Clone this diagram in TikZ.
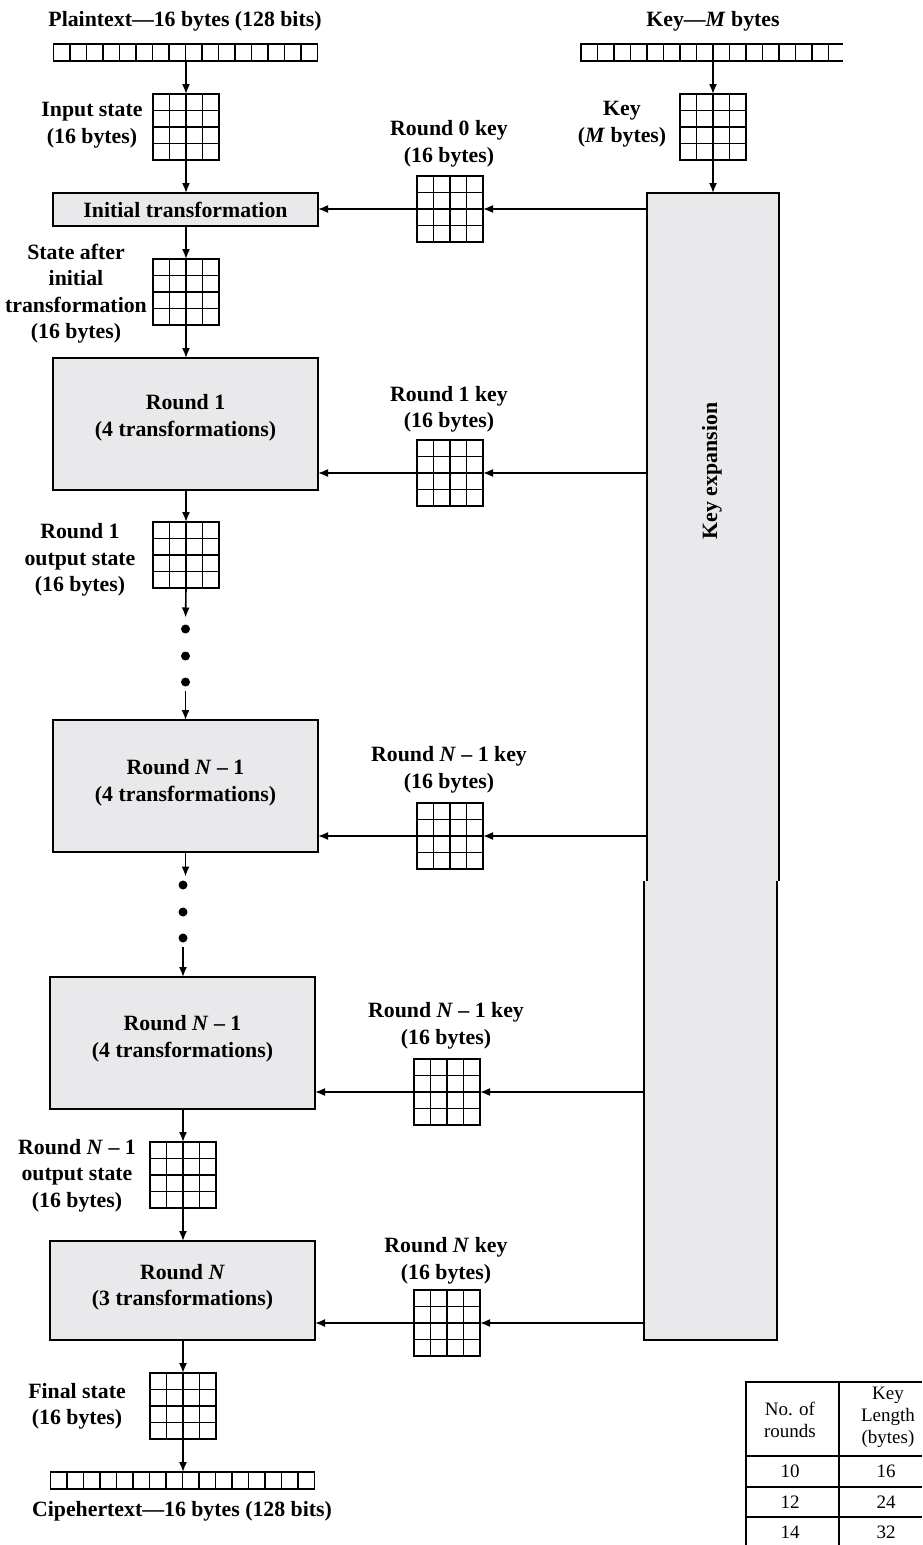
\documentclass[tikz,border=0pt]{standalone}
\usepackage{fontspec}
\setmainfont{Liberation Serif}
\usetikzlibrary{arrows.meta}
\definecolor{boxgray}{RGB}{233,233,236}
\tikzset{
 lbl/.style={font=\bfseries\fontsize{21.8}{26.5}\selectfont, align=center, inner sep=0},
 tbl/.style={font=\fontsize{19}{22}\selectfont, align=center, inner sep=0},
 sgrid/.style={draw, line width=1.7pt, minimum width=66pt, minimum height=66pt, inner sep=0, outer sep=0, fill=white},
 bar/.style={draw, line width=1.7pt, minimum width=264pt, minimum height=17pt, inner sep=0, outer sep=0},
 stagebox/.style={draw, line width=1.7pt, fill=boxgray, minimum width=265pt, inner sep=0, outer sep=0, font=\bfseries\fontsize{21.8}{26.5}\selectfont, align=center},
 arr/.style={line width=1.6pt, -{Latex[length=10pt,width=8pt]}},
 ln/.style={line width=1.7pt},
 dotn/.style={circle, fill=black, minimum size=9pt, inner sep=0, outer sep=0},
}
\newcommand\gridlines[1]{%
 \foreach \k in {16.5,33,49.5}{%
 \draw[ln] ([xshift=\k pt]#1.north west) -- ([xshift=\k pt]#1.south west);
 \draw[ln] ([yshift=-\k pt]#1.north west) -- ([yshift=-\k pt]#1.north east);}}
\newcommand\barlines[1]{\foreach \k in {1,...,15}{\draw[ln] ([xshift=\k*16.5pt]#1.north west) -- ([xshift=\k*16.5pt]#1.south west);}}
\begin{document}
\begin{tikzpicture}[x=1pt,y=-1pt]
\useasboundingbox (0,0) rectangle (922,1545);
% ---------- key expansion column ----------
\node[fill=boxgray, minimum width=132pt, minimum height=688pt, inner sep=0, outer sep=0] (kx) at (713,537) {};
\draw[ln] (kx.south west) -- (kx.north west) -- (kx.north east) -- (kx.south east);
\node[fill=boxgray, minimum width=133pt, minimum height=459pt, inner sep=0, outer sep=0] (kx2) at (710.5,1110.5) {};
\draw[ln] (kx2.north west) -- (kx2.south west) -- (kx2.south east) -- (kx2.north east);
\node[lbl, rotate=90] (kxt) at (712,471) {Key expansion};
% ---------- top ----------
\node[lbl] (ptlab) at (185,21) {Plaintext—16 bytes (128 bits)};
\node[bar] (ptbar) at (185.5,52.5) {};
\barlines{ptbar}
\node[lbl] (keylab) at (713,21) {Key—\textit{M} bytes};
\node[minimum width=262pt, minimum height=17pt, inner sep=0, outer sep=0] (keybar) at (712,52.5) {};
\draw[ln] (keybar.north east) -- (keybar.north west) -- (keybar.south west) -- (keybar.south east);
\barlines{keybar}
\node[sgrid] (kg) at (713,127) {};
\gridlines{kg}
\node[lbl] (kglab) at (622,124) {Key\\(\textit{M} bytes)};
\draw[arr] (keybar.south -| kg.north) -- (kg.north);
\draw[arr] (kg.south) -- (kg.south |- kx.north);
\node[sgrid] (ins) at (186,127) {};
\gridlines{ins}
\node[lbl] (inlab) at (92,125) {Input state\\(16 bytes)};
\draw[arr] (ptbar.south -| ins.north) -- (ins.north);
% ---------- initial transformation ----------
\node[stagebox, minimum height=33pt] (init) at (185.5,209.5) {Initial transformation};
\draw[arr] (ins.south) -- (ins.south |- init.north);
\node[sgrid] (r0k) at (450,209) {};
\gridlines{r0k}
\node[lbl] (r0klab) at (449,144) {Round 0 key\\(16 bytes)};
\draw[arr] (r0k.east -| kx.west) -- (r0k.east);
\draw[arr] (r0k.west) -- (r0k.west -| init.east);
\node[sgrid] (st1) at (186,292) {};
\gridlines{st1}
\node[lbl] (st1lab) at (76,293.5) {State after\\initial\\transformation\\(16 bytes)};
\draw[arr] (init.south -| st1.north) -- (st1.north);
% ---------- round 1 ----------
\node[stagebox, minimum height=132pt] (r1) at (185.5,424) {};
\node[lbl] (r1t) at (185.5,418) {Round 1\\(4 transformations)};
\draw[arr] (st1.south) -- (st1.south |- r1.north);
\node[sgrid] (r1k) at (450,473) {};
\gridlines{r1k}
\node[lbl] (r1klab) at (449,409.5) {Round 1 key\\(16 bytes)};
\draw[arr] (r1k.east -| kx.west) -- (r1k.east);
\draw[arr] (r1k.west) -- (r1k.west -| r1.east);
\node[sgrid] (r1o) at (186,555) {};
\gridlines{r1o}
\node[lbl] (r1olab) at (80,560) {Round 1\\output state\\(16 bytes)};
\draw[arr] (r1.south -| r1o.north) -- (r1o.north);
\node[dotn] (d1) at (185.5,629) {};
\node[dotn] (d2) at (185.5,656) {};
\node[dotn] (d3) at (185.5,682) {};
\draw[arr, shorten >=7pt] (r1o.south) -- (d1.north);
% ---------- round N-1 (a) ----------
\node[stagebox, minimum height=132pt] (ra) at (185.5,786) {};
\node[lbl] (rat) at (185.5,782.5) {Round \textit{N} – 1\\(4 transformations)};
\draw[arr, shorten <=4pt] (d3.south) -- (ra.north);
\node[sgrid] (rak) at (450,836) {};
\gridlines{rak}
\node[lbl] (raklab) at (449,770) {Round \textit{N} – 1 key\\(16 bytes)};
\draw[arr] (rak.east -| kx.west) -- (rak.east);
\draw[arr] (rak.west) -- (rak.west -| ra.east);
\node[dotn] (d4) at (183,885) {};
\node[dotn] (d5) at (183,912) {};
\node[dotn] (d6) at (183,938) {};
\draw[arr, shorten >=4pt] (ra.south) -- (ra.south |- d4.north);
% ---------- round N-1 (b) ----------
\node[stagebox, minimum height=132pt] (rb) at (182.5,1043) {};
\node[lbl] (rbt) at (182.5,1038.5) {Round \textit{N} – 1\\(4 transformations)};
\draw[arr, shorten <=4pt] (d6.south) -- (d6.south |- rb.north);
\node[sgrid] (rbk) at (447,1092) {};
\gridlines{rbk}
\node[lbl] (rbklab) at (446,1026) {Round \textit{N} – 1 key\\(16 bytes)};
\draw[arr] (rbk.east -| kx2.west) -- (rbk.east);
\draw[arr] (rbk.west) -- (rbk.west -| rb.east);
\node[sgrid] (rbo) at (183,1175) {};
\gridlines{rbo}
\node[lbl] (rbolab) at (77,1175.5) {Round \textit{N} – 1\\output state\\(16 bytes)};
\draw[arr] (rb.south -| rbo.north) -- (rbo.north);
% ---------- round N ----------
\node[stagebox, minimum height=99pt] (rn) at (182.5,1290.5) {};
\node[lbl] (rnt) at (182.5,1287) {Round \textit{N}\\(3 transformations)};
\draw[arr] (rbo.south) -- (rbo.south |- rn.north);
\node[sgrid] (rnk) at (447,1323) {};
\gridlines{rnk}
\node[lbl] (rnklab) at (446,1261) {Round \textit{N} key\\(16 bytes)};
\draw[arr] (rnk.east -| kx2.west) -- (rnk.east);
\draw[arr] (rnk.west) -- (rnk.west -| rn.east);
\node[sgrid] (fin) at (183,1406) {};
\gridlines{fin}
\node[lbl] (finlab) at (77,1406.5) {Final state\\(16 bytes)};
\draw[arr] (rn.south -| fin.north) -- (fin.north);
\node[bar] (ctbar) at (182.5,1480.5) {};
\barlines{ctbar}
\draw[arr] (fin.south) -- (fin.south |- ctbar.north);
\node[lbl] (ctlab) at (182,1511) {Cipehertext—16 bytes (128 bits)};
% ---------- table ----------
\draw[ln] (922,1382) -- (746,1382) -- (746,1545);
\draw[ln] (839,1382) -- (839,1545);
\draw[ln] (746,1456) -- (922,1456);
\draw[ln] (746,1487) -- (922,1487);
\draw[ln] (746,1517) -- (922,1517);
\node[tbl] (th1) at (790,1420) {No. of\\rounds};
\node[tbl] (th2) at (888,1417) {Key\\Length\\(bytes)};
\node[tbl] (t11) at (790,1471.5) {10};
\node[tbl] (t12) at (886,1471.5) {16};
\node[tbl] (t21) at (790,1502) {12};
\node[tbl] (t22) at (886,1502) {24};
\node[tbl] (t31) at (790,1532) {14};
\node[tbl] (t32) at (886,1532) {32};
\end{tikzpicture}
\end{document}
